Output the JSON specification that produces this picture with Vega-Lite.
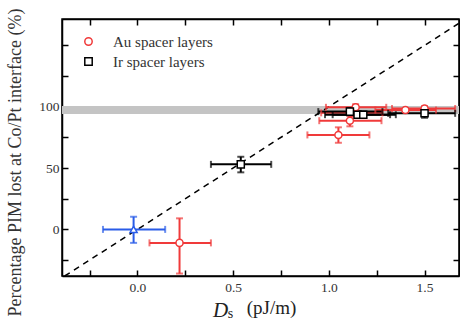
{
  "$schema": "https://vega.github.io/schema/vega-lite/v6.json",
  "width": 397,
  "height": 257,
  "autosize": {"type": "none"},
  "padding": {"left": 62, "top": 19, "right": 1, "bottom": 54},
  "background": "white",
  "config": {
    "view": {"stroke": "black", "strokeWidth": 1.5},
    "axis": {
      "domainColor": "black", "domainWidth": 1.5,
      "tickColor": "black", "tickWidth": 1.5, "tickSize": -6,
      "labelFont": "Liberation Serif", "labelFontSize": 13.5, "labelColor": "#333",
      "titleFont": "Liberation Serif", "titleFontWeight": "normal", "titleColor": "#333",
      "grid": false
    },
    "legend": {
      "labelFont": "Liberation Serif", "labelFontSize": 15, "labelColor": "#333",
      "symbolStrokeWidth": 1.5, "symbolSize": 55, "rowPadding": 4, "labelOffset": 17
    }
  },
  "datasets": {
    "pts": [
      {"s": "ref", "x": -0.02, "y": 0, "xlo": -0.18, "xhi": 0.145, "ylo": -11, "yhi": 10.3},
      {"s": "Au spacer layers", "x": 0.22, "y": -11, "xlo": 0.063, "xhi": 0.384, "ylo": -36, "yhi": 9},
      {"s": "Au spacer layers", "x": 1.05, "y": 77, "xlo": 0.888, "xhi": 1.212, "ylo": 70.6, "yhi": 83.2},
      {"s": "Au spacer layers", "x": 1.11, "y": 88.6, "xlo": 0.95, "xhi": 1.275, "ylo": 84, "yhi": 92.5},
      {"s": "Au spacer layers", "x": 1.12, "y": 95, "xlo": 0.96, "xhi": 1.28, "ylo": 92, "yhi": 98},
      {"s": "Au spacer layers", "x": 1.14, "y": 99.5, "xlo": 0.985, "xhi": 1.3, "ylo": 97, "yhi": 102},
      {"s": "Au spacer layers", "x": 1.4, "y": 97.3, "xlo": 1.243, "xhi": 1.56, "ylo": 95.5, "yhi": 99},
      {"s": "Au spacer layers", "x": 1.5, "y": 98.5, "xlo": 1.33, "xhi": 1.66, "ylo": 96.5, "yhi": 100.5},
      {"s": "Ir spacer layers", "x": 0.54, "y": 53, "xlo": 0.384, "xhi": 0.699, "ylo": 46.5, "yhi": 59.2},
      {"s": "Ir spacer layers", "x": 1.11, "y": 96, "xlo": 0.945, "xhi": 1.28, "ylo": 93, "yhi": 99},
      {"s": "Ir spacer layers", "x": 1.15, "y": 93.5, "xlo": 0.98, "xhi": 1.32, "ylo": 91, "yhi": 96},
      {"s": "Ir spacer layers", "x": 1.18, "y": 93.5, "xlo": 1.02, "xhi": 1.35, "ylo": 91, "yhi": 96},
      {"s": "Ir spacer layers", "x": 1.5, "y": 94.6, "xlo": 1.31, "xhi": 1.66, "ylo": 91, "yhi": 98}
    ],
    "band": [{"lo": 94, "hi": 100.5}],
    "diag": [{"x": -0.38, "y": -38}, {"x": 1.68, "y": 168}]
  },
  "resolve": {"axis": {"x": "independent", "y": "independent"}},
  "layer": [
    {
      "data": {"name": "band"},
      "mark": {"type": "rect", "color": "#c4c4c4"},
      "encoding": {
        "y": {"field": "lo", "type": "quantitative", "scale": {"domain": [-38, 171.5], "nice": false, "zero": false}, "axis": null},
        "y2": {"field": "hi"}
      }
    },
    {
      "data": {"name": "diag"},
      "mark": {"type": "line", "color": "black", "strokeWidth": 1.5, "strokeDash": [6, 5], "clip": true},
      "encoding": {
        "x": {"field": "x", "type": "quantitative", "scale": {"domain": [-0.394, 1.68], "nice": false, "zero": false},
          "axis": {"orient": "top", "labels": false, "title": null, "values": [-0.25, 0, 0.25, 0.5, 0.75, 1, 1.25, 1.5]}},
        "y": {"field": "y", "type": "quantitative", "scale": {"domain": [-38, 171.5], "nice": false, "zero": false},
          "axis": {"orient": "right", "labels": false, "title": null, "values": [-25, 0, 25, 50, 75, 100, 125, 150]}}
      }
    },
    {
      "data": {"name": "pts"},
      "mark": {"type": "rule", "strokeWidth": 2},
      "encoding": {
        "x": {"field": "xlo", "type": "quantitative", "scale": {"domain": [-0.394, 1.68], "nice": false, "zero": false},
          "axis": {"orient": "bottom", "labels": false, "ticks": false, "domain": false, "title": "D", "titleFontStyle": "italic", "titleFontSize": 21, "titleX": 158, "titleY": 40, "titleBaseline": "alphabetic", "titleAlign": "center", "titleColor": "#222"}},
        "x2": {"field": "xhi"},
        "y": {"field": "y", "type": "quantitative", "scale": {"domain": [-38, 171.5], "nice": false, "zero": false}, "axis": null},
        "stroke": {"field": "s", "type": "nominal", "scale": {"domain": ["ref", "Au spacer layers", "Ir spacer layers"], "range": ["#2a5ce8", "#f03a3a", "#000000"]}, "legend": null}
      }
    },
    {
      "data": {"name": "pts"},
      "mark": {"type": "rule", "strokeWidth": 2},
      "encoding": {
        "x": {"field": "x", "type": "quantitative", "scale": {"domain": [-0.394, 1.68], "nice": false, "zero": false},
          "axis": {"orient": "bottom", "labels": false, "ticks": false, "domain": false, "title": "s", "titleFontSize": 14, "titleX": 168, "titleY": 41, "titleBaseline": "alphabetic", "titleAlign": "center", "titleColor": "#222"}},
        "y": {"field": "ylo", "type": "quantitative", "scale": {"domain": [-38, 171.5], "nice": false, "zero": false}, "axis": null},
        "y2": {"field": "yhi"},
        "stroke": {"field": "s", "type": "nominal", "scale": {"domain": ["ref", "Au spacer layers", "Ir spacer layers"], "range": ["#2a5ce8", "#f03a3a", "#000000"]}, "legend": null}
      }
    },
    {
      "data": {"name": "pts"},
      "transform": [{"fold": ["xlo", "xhi"], "as": ["k", "xv"]}],
      "mark": {"type": "tick", "orient": "vertical", "size": 7, "thickness": 2},
      "encoding": {
        "x": {"field": "xv", "type": "quantitative", "scale": {"domain": [-0.394, 1.68], "nice": false, "zero": false}, "axis": null},
        "y": {"field": "y", "type": "quantitative", "scale": {"domain": [-38, 171.5], "nice": false, "zero": false}, "axis": null},
        "fill": {"field": "s", "type": "nominal", "scale": {"domain": ["ref", "Au spacer layers", "Ir spacer layers"], "range": ["#2a5ce8", "#f03a3a", "#000000"]}, "legend": null}
      }
    },
    {
      "data": {"name": "pts"},
      "transform": [{"fold": ["ylo", "yhi"], "as": ["k", "yv"]}],
      "mark": {"type": "tick", "orient": "horizontal", "size": 7, "thickness": 2},
      "encoding": {
        "x": {"field": "x", "type": "quantitative", "scale": {"domain": [-0.394, 1.68], "nice": false, "zero": false}, "axis": null},
        "y": {"field": "yv", "type": "quantitative", "scale": {"domain": [-38, 171.5], "nice": false, "zero": false}, "axis": null},
        "fill": {"field": "s", "type": "nominal", "scale": {"domain": ["ref", "Au spacer layers", "Ir spacer layers"], "range": ["#2a5ce8", "#f03a3a", "#000000"]}, "legend": null}
      }
    },
    {
      "data": {"name": "pts"},
      "mark": {"type": "point", "filled": false, "fill": "white", "opacity": 1, "strokeWidth": 1.5, "size": 50},
      "encoding": {
        "x": {"field": "x", "type": "quantitative", "scale": {"domain": [-0.394, 1.68], "nice": false, "zero": false},
          "axis": {"orient": "bottom", "values": [-0.25, 0, 0.25, 0.5, 0.75, 1, 1.25, 1.5], "format": ".1f",
            "labelExpr": "(datum.value == 0 || datum.value == 0.5 || datum.value == 1 || datum.value == 1.5) ? datum.label : ''",
            "labelPadding": 10, "title": "(pJ/m)", "titleFontSize": 19, "titleX": 209, "titleY": 37, "titleBaseline": "alphabetic", "titleAlign": "center", "titleColor": "#222"}},
        "y": {"field": "y", "type": "quantitative", "scale": {"domain": [-38, 171.5], "nice": false, "zero": false},
          "axis": {"orient": "left", "values": [-25, 0, 25, 50, 75, 100, 125, 150], "format": "d",
            "labelExpr": "(datum.value == 0 || datum.value == 50 || datum.value == 100) ? datum.label : ''",
            "labelPadding": 9, "title": "Percentage PIM lost at Co/Pt interface (%)", "titleFontSize": 18,
            "titleX": -47, "titleY": 143, "titleAlign": "center", "titleBaseline": "middle", "titleAngle": 270}},
        "color": {"field": "s", "type": "nominal", "scale": {"domain": ["Au spacer layers", "Ir spacer layers", "ref"], "range": ["#f03a3a", "#000000", "#2a5ce8"]},
          "legend": {"orient": "none", "legendX": 19, "legendY": 15, "title": null, "values": ["Au spacer layers", "Ir spacer layers"]}},
        "shape": {"field": "s", "type": "nominal", "scale": {"domain": ["Au spacer layers", "Ir spacer layers", "ref"], "range": ["circle", "square", "triangle-up"]},
          "legend": {"orient": "none", "legendX": 19, "legendY": 15, "title": null, "values": ["Au spacer layers", "Ir spacer layers"]}}
      }
    }
  ]
}
